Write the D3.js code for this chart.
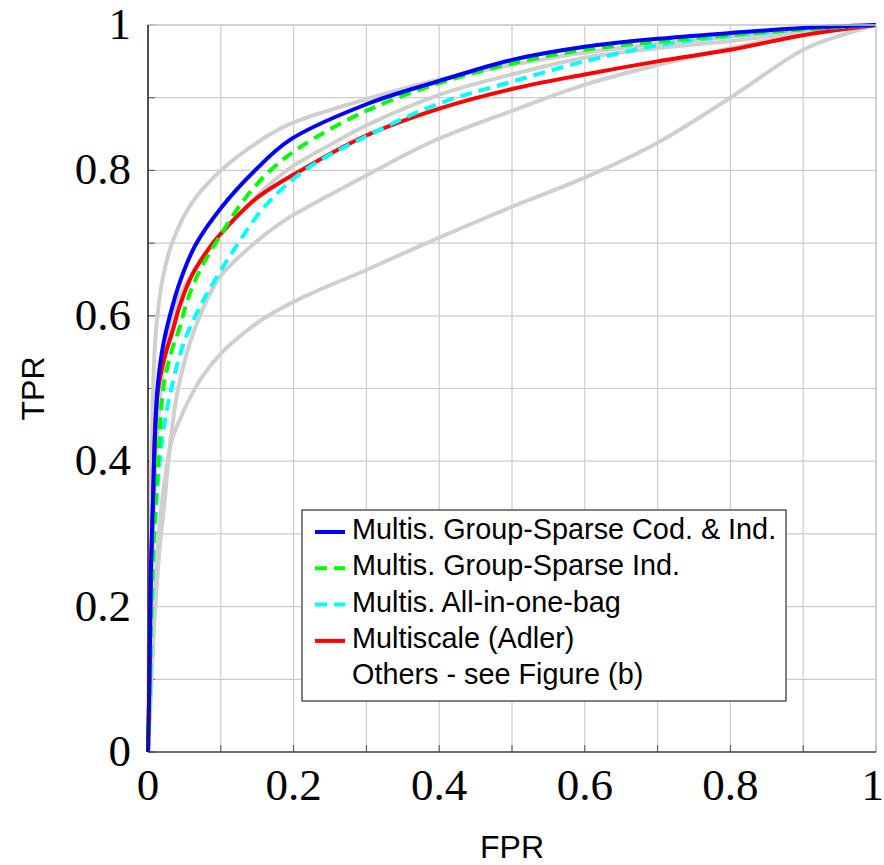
<!DOCTYPE html>
<html>
<head>
<meta charset="utf-8">
<script src="https://cdn.jsdelivr.net/npm/d3@7"></script>
<style>
  html, body { margin: 0; padding: 0; background: #fff; }
  svg { display: block; }
</style>
</head>
<body>
<svg id="chart" width="884" height="865"></svg>
<script>
// ROC curves: FPR / TPR pairs per method
const blueFpr  = [0, 0.002, 0.004, 0.007, 0.009, 0.013, 0.02, 0.03, 0.045, 0.065, 0.1, 0.147, 0.195, 0.3, 0.4, 0.5, 0.6, 0.7, 0.8, 0.9, 1];
const blueTpr  = [0, 0.1, 0.25, 0.35, 0.42, 0.5, 0.555, 0.6, 0.65, 0.697, 0.748, 0.8, 0.842, 0.891, 0.923, 0.952, 0.970, 0.981, 0.989, 0.996, 1];

const greenFpr = [0, 0.003, 0.006, 0.01, 0.014, 0.021, 0.032, 0.044, 0.053, 0.07, 0.096, 0.13, 0.165, 0.209, 0.3, 0.4, 0.5, 0.6, 0.7, 0.8, 0.9, 1];
const greenTpr = [0, 0.12, 0.25, 0.33, 0.4, 0.5, 0.55, 0.585, 0.618, 0.66, 0.705, 0.757, 0.797, 0.832, 0.882, 0.92, 0.947, 0.966, 0.977, 0.986, 0.994, 1];

const cyanFpr  = [0, 0.003, 0.006, 0.01, 0.016, 0.024, 0.032, 0.045, 0.055, 0.078, 0.106, 0.122, 0.16, 0.215, 0.3, 0.4, 0.5, 0.6, 0.7, 0.8, 0.9, 1];
const cyanTpr  = [0, 0.1, 0.22, 0.32, 0.4, 0.46, 0.5, 0.55, 0.578, 0.625, 0.672, 0.697, 0.75, 0.8, 0.847, 0.892, 0.922, 0.95, 0.972, 0.985, 0.994, 1];

const redFpr   = [0, 0.002, 0.004, 0.007, 0.01, 0.014, 0.022, 0.034, 0.044, 0.06, 0.089, 0.1, 0.147, 0.21, 0.3, 0.4, 0.5, 0.6, 0.7, 0.8, 0.9, 1];
const redTpr   = [0, 0.1, 0.25, 0.35, 0.45, 0.5, 0.54, 0.58, 0.615, 0.655, 0.7, 0.713, 0.76, 0.8, 0.848, 0.885, 0.912, 0.932, 0.95, 0.966, 0.986, 1];

// Other methods (grey)
const other1Fpr = [0, 0.002, 0.005, 0.009, 0.013, 0.02, 0.033, 0.06, 0.1, 0.165, 0.2, 0.3, 0.4, 0.5, 0.6, 0.7, 0.8, 0.9, 1];
const other1Tpr = [0, 0.25, 0.42, 0.55, 0.6, 0.65, 0.7, 0.755, 0.8, 0.848, 0.866, 0.898, 0.925, 0.945, 0.962, 0.974, 0.984, 0.993, 1];

const other2Fpr = [0, 0.003, 0.007, 0.012, 0.02, 0.035, 0.05, 0.075, 0.1, 0.15, 0.195, 0.25, 0.3, 0.4, 0.5, 0.6, 0.7, 0.8, 0.9, 1];
const other2Tpr = [0, 0.15, 0.3, 0.42, 0.52, 0.6, 0.64, 0.68, 0.712, 0.765, 0.803, 0.835, 0.862, 0.904, 0.932, 0.955, 0.968, 0.978, 0.99, 1];

const other3Fpr = [0, 0.004, 0.01, 0.016, 0.023, 0.03, 0.041, 0.06, 0.08, 0.1, 0.15, 0.195, 0.216, 0.3, 0.387, 0.5, 0.6, 0.7, 0.8, 0.9, 1];
const other3Tpr = [0, 0.1, 0.2, 0.28, 0.347, 0.42, 0.498, 0.57, 0.62, 0.655, 0.703, 0.736, 0.748, 0.793, 0.838, 0.882, 0.918, 0.945, 0.968, 0.988, 1];

const other4Fpr = [0, 0.005, 0.01, 0.015, 0.023, 0.033, 0.045, 0.055, 0.075, 0.1, 0.13, 0.16, 0.216, 0.3, 0.378, 0.5, 0.6, 0.7, 0.8, 0.9, 0.95, 1];
const other4Tpr = [0, 0.1, 0.22, 0.3, 0.374, 0.43, 0.46, 0.482, 0.517, 0.548, 0.575, 0.597, 0.627, 0.663, 0.698, 0.75, 0.79, 0.838, 0.9, 0.966, 0.985, 1];

const tickValues = [0, 0.2, 0.4, 0.6, 0.8, 1];
const tickLabels = ["0", "0.2", "0.4", "0.6", "0.8", "1"];
const gridValues = d3.range(0, 11).map(i => i / 10);

const legendLabels = [
  "Multis. Group-Sparse Cod. & Ind.",
  "Multis. Group-Sparse Ind.",
  "Multis. All-in-one-bag",
  "Multiscale (Adler)",
  "Others - see Figure (b)"
];

const svg = d3.select("#chart");
const plotLeft = 148, plotRight = 876, plotTop = 25, plotBottom = 752;

const x = d3.scaleLinear().domain([0, 1]).range([plotLeft, plotRight]);
const y = d3.scaleLinear().domain([0, 1]).range([plotBottom, plotTop]);

const gridColor = "#cccccc";
const greyCurve = "#cfcfcf";

// grid
const grid = svg.append("g");
grid.selectAll("line.gx").data(gridValues).join("line")
  .attr("x1", d => x(d)).attr("x2", d => x(d))
  .attr("y1", plotTop).attr("y2", plotBottom)
  .attr("stroke", gridColor).attr("stroke-width", 1.2);
grid.selectAll("line.gy").data(gridValues).join("line")
  .attr("x1", plotLeft).attr("x2", plotRight)
  .attr("y1", d => y(d)).attr("y2", d => y(d))
  .attr("stroke", gridColor).attr("stroke-width", 1.2);

// small inward ticks on left and bottom axes
svg.append("g").selectAll("line").data(gridValues).join("line")
  .attr("x1", plotLeft).attr("x2", plotLeft + 7)
  .attr("y1", d => y(d)).attr("y2", d => y(d))
  .attr("stroke", "#555").attr("stroke-width", 1);
svg.append("g").selectAll("line").data(gridValues).join("line")
  .attr("x1", d => x(d)).attr("x2", d => x(d))
  .attr("y1", plotBottom).attr("y2", plotBottom - 7)
  .attr("stroke", "#555").attr("stroke-width", 1);

const line = d3.line()
  .x(d => x(d[0]))
  .y(d => y(d[1]))
  .curve(d3.curveCatmullRom.alpha(0.5));

const pairs = (fx, ty) => fx.map((f, i) => [f, ty[i]]);

const curves = svg.append("g");

// grey curves
[[other1Fpr, other1Tpr], [other2Fpr, other2Tpr], [other3Fpr, other3Tpr], [other4Fpr, other4Tpr]]
  .forEach(([fx, ty]) => {
    curves.append("path")
      .attr("d", line(pairs(fx, ty)))
      .attr("fill", "none")
      .attr("stroke", greyCurve)
      .attr("stroke-width", 4)
      .attr("stroke-linejoin", "round");
  });

const series = [
  { fx: redFpr,   ty: redTpr,   color: "#ff0000", dash: null },
  { fx: cyanFpr,  ty: cyanTpr,  color: "#00ffff", dash: "12,7" },
  { fx: greenFpr, ty: greenTpr, color: "#00ff00", dash: "12,7" },
  { fx: blueFpr,  ty: blueTpr,  color: "#0000ff", dash: null }
];
series.forEach(s => {
  curves.append("path")
    .attr("d", line(pairs(s.fx, s.ty)))
    .attr("fill", "none")
    .attr("stroke", s.color)
    .attr("stroke-width", 4)
    .attr("stroke-dasharray", s.dash)
    .attr("stroke-linejoin", "round");
});

// axis frame: top/right light, left/bottom dark
svg.append("line").attr("x1", plotLeft).attr("x2", plotRight).attr("y1", plotTop).attr("y2", plotTop)
  .attr("stroke", gridColor).attr("stroke-width", 1.5);
svg.append("line").attr("x1", plotRight).attr("x2", plotRight).attr("y1", plotTop).attr("y2", plotBottom)
  .attr("stroke", gridColor).attr("stroke-width", 1.5);
svg.append("line").attr("x1", plotLeft).attr("x2", plotLeft).attr("y1", plotTop).attr("y2", plotBottom)
  .attr("stroke", "#222").attr("stroke-width", 1.5);
svg.append("line").attr("x1", plotLeft).attr("x2", plotRight).attr("y1", plotBottom).attr("y2", plotBottom)
  .attr("stroke", "#444").attr("stroke-width", 1.5);

// tick labels
const serif = "'Liberation Serif', 'DejaVu Serif', serif";
svg.append("g").selectAll("text").data(tickValues).join("text")
  .attr("x", d => d === 1 ? 884 : x(d))
  .attr("y", 800)
  .attr("text-anchor", d => d === 1 ? "end" : "middle")
  .attr("font-family", serif)
  .attr("font-size", 45)
  .attr("fill", "#000")
  .text((d, i) => tickLabels[i]);
svg.append("g").selectAll("text").data(tickValues).join("text")
  .attr("x", 131)
  .attr("y", d => y(d) + 14)
  .attr("text-anchor", "end")
  .attr("font-family", serif)
  .attr("font-size", 45)
  .attr("fill", "#000")
  .text((d, i) => tickLabels[i]);

// axis titles
const sans = "'Liberation Sans', Arial, sans-serif";
svg.append("text")
  .attr("x", (plotLeft + plotRight) / 2).attr("y", 858)
  .attr("text-anchor", "middle")
  .attr("font-family", sans).attr("font-size", 32)
  .text("FPR");
svg.append("text")
  .attr("transform", `translate(44,${(plotTop + plotBottom) / 2}) rotate(-90)`)
  .attr("text-anchor", "middle")
  .attr("font-family", sans).attr("font-size", 32)
  .text("TPR");

// legend
const legend = svg.append("g");
legend.append("rect")
  .attr("x", 302).attr("y", 510)
  .attr("width", 484).attr("height", 191)
  .attr("fill", "#fff")
  .attr("stroke", "#555").attr("stroke-width", 1.5);

const legendColors = ["#0000ff", "#00ff00", "#00ffff", "#ff0000", null];
const legendDash = [null, "12,7", "12,7", null, null];
legendLabels.forEach((label, i) => {
  const base = 539 + i * 36.3;
  if (legendColors[i]) {
    legend.append("line")
      .attr("x1", 315).attr("x2", 345)
      .attr("y1", base - 7).attr("y2", base - 7)
      .attr("stroke", legendColors[i])
      .attr("stroke-width", 4)
      .attr("stroke-dasharray", legendDash[i]);
  }
  legend.append("text")
    .attr("x", 352).attr("y", base)
    .attr("font-family", sans).attr("font-size", 28.8)
    .attr("fill", "#000")
    .text(label);
});
</script>
</body>
</html>
